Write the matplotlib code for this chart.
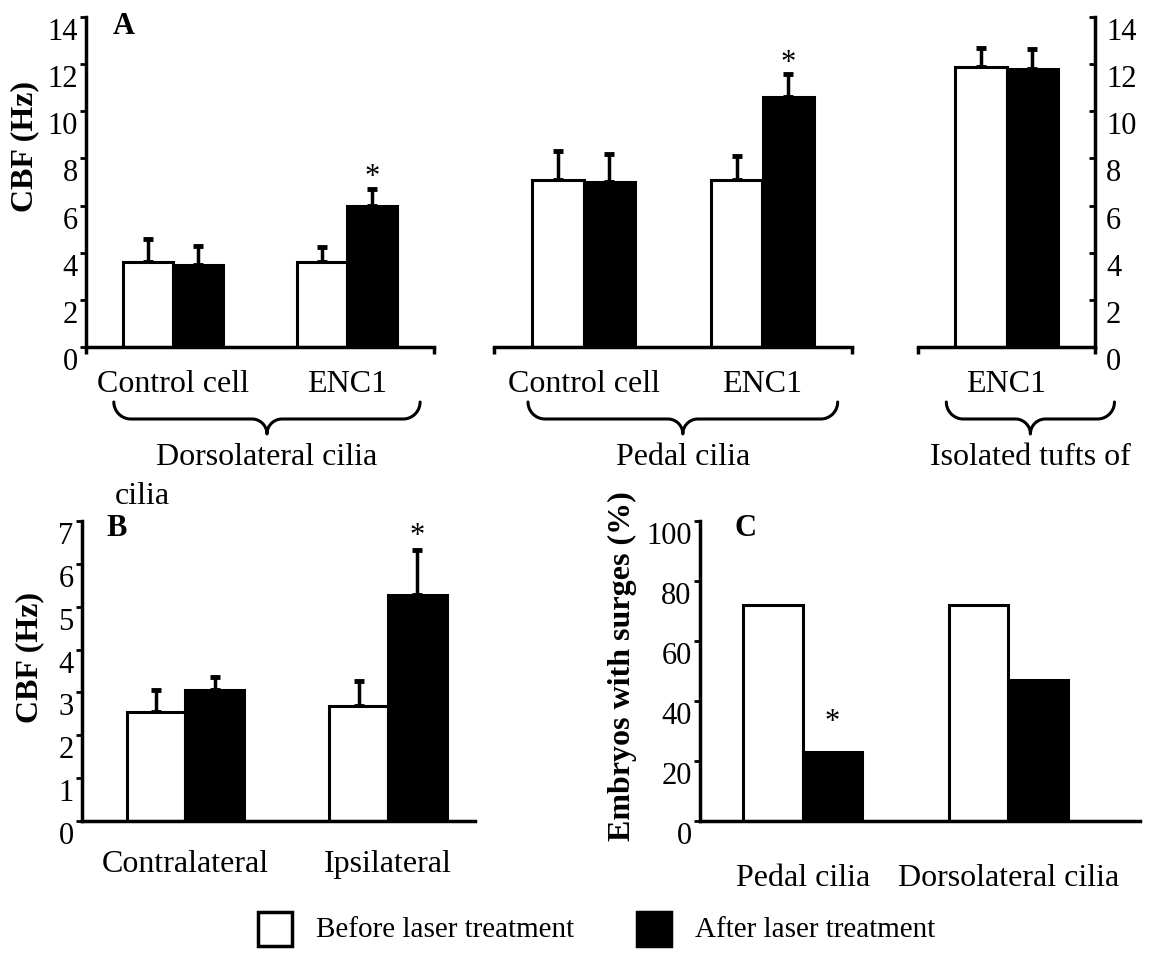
"""Recreate the laser-treatment CBF figure (panels A, B, C)."""

import numpy as np
import matplotlib.pyplot as plt
from matplotlib.patches import Rectangle

plt.rcParams['font.family'] = ['Liberation Serif', 'DejaVu Serif']

W, H = 1152, 954
BW = 0.29  # bar width in group units

# Panel A - CBF (Hz), dorsolateral cilia
dorso_groups = ['Control cell', 'ENC1']
dorso_before = [3.6, 3.6]
dorso_after = [3.5, 6.0]
dorso_before_err = [1.0, 0.65]
dorso_after_err = [0.8, 0.7]
dorso_sig = [False, True]

# Panel A - CBF (Hz), pedal cilia
pedal_groups = ['Control cell', 'ENC1']
pedal_before = [7.1, 7.1]
pedal_after = [7.0, 10.6]
pedal_before_err = [1.2, 1.0]
pedal_after_err = [1.2, 1.0]
pedal_sig = [False, True]

# Panel A - CBF (Hz), isolated tufts of cilia
tuft_groups = ['ENC1']
tuft_before = [11.9]
tuft_after = [11.8]
tuft_before_err = [0.8]
tuft_after_err = [0.85]
tuft_sig = [False]

# Panel B - CBF (Hz)
side_groups = ['Contralateral', 'Ipsilateral']
side_before = [2.55, 2.68]
side_after = [3.05, 5.28]
side_before_err = [0.5, 0.58]
side_after_err = [0.32, 1.05]
side_sig = [False, True]

# Panel C - embryos with surges (%)
surge_groups = ['Pedal cilia', 'Dorsolateral cilia']
surge_before = [72, 72]
surge_after = [23, 47]
surge_sig = [True, False]

a_ticks = [0, 2, 4, 6, 8, 10, 12, 14]
b_ticks = [0, 1, 2, 3, 4, 5, 6, 7]
c_ticks = [0, 20, 40, 60, 80, 100]


def add_axes_px(fig, left, top, right, bottom):
    """Add an axes given its box in image pixels (y down)."""
    return fig.add_axes([left / W, 1 - bottom / H, (right - left) / W, (bottom - top) / H])


def draw_bars(ax, groups, before, after, before_err=None, after_err=None,
              sig=None, star_pad=9):
    """Paired white/black bars with upward-only error bars."""
    x = np.arange(len(groups))
    ax.bar(x - BW / 2, before, BW, color='white', edgecolor='black', linewidth=2.2, zorder=2)
    ax.bar(x + BW / 2, after, BW, color='black', edgecolor='black', linewidth=2.2, zorder=2)
    tops = np.array(after, dtype=float)
    if before_err is not None:
        zeros = np.zeros(len(x))
        ax.errorbar(x - BW / 2, before, yerr=[zeros, before_err], fmt='none', ecolor='black',
                    elinewidth=2.5, capsize=3.5, capthick=3.5, zorder=1)
        ax.errorbar(x + BW / 2, after, yerr=[zeros, after_err], fmt='none', ecolor='black',
                    elinewidth=2.5, capsize=3.5, capthick=3.5, zorder=1)
        tops = tops + np.array(after_err)
    if sig is not None:
        for i, s in enumerate(sig):
            if s:
                ax.annotate('*', (x[i] + BW / 2, tops[i]), xytext=(0, star_pad),
                            textcoords='offset points', ha='center', va='center',
                            fontsize=22, annotation_clip=False)
    ax.set_xticks(x)
    ax.set_xticklabels(groups, fontsize=23)
    return x


def style_axes(ax, xlim, ylim, yticks=None, side='left', label_pad=16, end_ticks=True):
    """Plain journal-style axes: thick spines, short ticks, top-aligned y labels."""
    ax.set_xlim(*xlim)
    ax.set_ylim(*ylim)
    for sp in ax.spines.values():
        sp.set_visible(False)
        sp.set_linewidth(2.5)
    ax.spines['bottom'].set_visible(True)
    ax.tick_params(axis='x', which='major', length=0, pad=label_pad)
    if end_ticks:
        ax.set_xticks(list(xlim), minor=True)
        ax.tick_params(axis='x', which='minor', direction='out', length=5, width=2.5)
    if yticks is None:
        ax.set_yticks([])
        return
    ax.spines[side].set_visible(True)
    ax.set_yticks(yticks)
    if side == 'right':
        ax.yaxis.tick_right()
        ax.tick_params(axis='y', direction='in', length=4, width=2, pad=8, labelsize=22)
    else:
        ax.tick_params(axis='y', direction='out', length=4, width=2, pad=2, labelsize=22)
    for t in ax.get_yticklabels():
        t.set_va('top')


def brace(ov, x0, x1, y_top=403, y_line=420, y_tip=435):
    """Curly brace opening upwards, drawn in image pixels (y down)."""
    r = y_line - y_top
    r2 = y_tip - y_line
    xm = (x0 + x1) / 2
    t = np.linspace(0, np.pi / 2, 25)
    xs = np.concatenate([
        x0 + r - r * np.cos(t),
        xm - r2 + r2 * np.sin(t),
        (xm + r2 - r2 * np.sin(t))[::-1],
        (x1 - r + r * np.cos(t))[::-1],
    ])
    ys = np.concatenate([
        y_top + r * np.sin(t),
        y_tip - r2 * np.cos(t),
        (y_tip - r2 * np.cos(t))[::-1],
        (y_top + r * np.sin(t))[::-1],
    ])
    ov.plot(xs, ys, color='black', linewidth=2.2, solid_capstyle='round')
    return xm


def to_px(ax, x):
    """Data x of an axes -> image pixel x."""
    return ax.transData.transform((x, 0))[0]


def main():
    fig = plt.figure(figsize=(W / 100, H / 100), dpi=100)

    # ---- Panel A ----
    ax_d = add_axes_px(fig, 86, 18, 434, 348)
    draw_bars(ax_d, dorso_groups, dorso_before, dorso_after, dorso_before_err,
              dorso_after_err, dorso_sig, star_pad=9)
    style_axes(ax_d, (-0.5, 1.5), (0, 14), a_ticks)

    ax_p = add_axes_px(fig, 494, 18, 852, 348)
    draw_bars(ax_p, pedal_groups, pedal_before, pedal_after, pedal_before_err,
              pedal_after_err, pedal_sig, star_pad=8)
    style_axes(ax_p, (-0.5, 1.5), (0, 14))

    ax_t = add_axes_px(fig, 918, 18, 1095, 348)
    draw_bars(ax_t, tuft_groups, tuft_before, tuft_after, tuft_before_err,
              tuft_after_err, tuft_sig)
    style_axes(ax_t, (-0.5, 0.5), (0, 14), a_ticks, side='right')

    # ---- Panel B ----
    ax_b = add_axes_px(fig, 82, 522, 475, 822)
    draw_bars(ax_b, side_groups, side_before, side_after, side_before_err,
              side_after_err, side_sig, star_pad=10)
    style_axes(ax_b, (-0.51, 1.43), (0, 7), b_ticks, label_pad=20, end_ticks=False)

    # ---- Panel C ----
    ax_c = add_axes_px(fig, 700, 522, 1140, 822)
    draw_bars(ax_c, surge_groups, surge_before, surge_after, sig=surge_sig, star_pad=22)
    style_axes(ax_c, (-0.5, 1.64), (0, 100), c_ticks, label_pad=30, end_ticks=False)

    # ---- overlay in image pixels for braces, labels and legend ----
    ov = fig.add_axes([0, 0, 1, 1], facecolor='none')
    ov.set_xlim(0, W)
    ov.set_ylim(H, 0)
    ov.axis('off')

    tip = brace(ov, to_px(ax_d, -0.34), to_px(ax_d, 1.42))
    ov.text(tip, 458, 'Dorsolateral cilia', fontsize=23, ha='center', va='center')
    tip = brace(ov, to_px(ax_p, -0.31), to_px(ax_p, 1.42))
    ov.text(tip, 458, 'Pedal cilia', fontsize=23, ha='center', va='center')
    tip = brace(ov, to_px(ax_t, -0.34), to_px(ax_t, 0.61))
    ov.text(tip, 458, 'Isolated tufts of', fontsize=23, ha='center', va='center')
    ov.text(142, 497, 'cilia', fontsize=23, ha='center', va='center')

    ov.text(25, 146, 'CBF (Hz)', rotation=90, fontsize=23, fontweight='bold',
            ha='center', va='center')
    ov.text(30, 658, 'CBF (Hz)', rotation=90, fontsize=23, fontweight='bold',
            ha='center', va='center')
    ov.text(622, 666, 'Embryos with surges (%)', rotation=90, fontsize=23,
            fontweight='bold', ha='center', va='center')

    ov.text(124, 26, 'A', fontsize=22, fontweight='bold', ha='center', va='center')
    ov.text(117, 529, 'B', fontsize=22, fontweight='bold', ha='center', va='center')
    ov.text(746, 529, 'C', fontsize=22, fontweight='bold', ha='center', va='center')

    # legend
    ov.add_patch(Rectangle((258, 913), 34, 34, facecolor='white', edgecolor='black', linewidth=2.5))
    ov.text(316, 930, 'Before laser treatment', fontsize=21, ha='left', va='center')
    ov.add_patch(Rectangle((637, 913), 34, 34, facecolor='black', edgecolor='black', linewidth=2.5))
    ov.text(695, 930, 'After laser treatment', fontsize=21, ha='left', va='center')

    fig.savefig('out.png', dpi=100)


if __name__ == '__main__':
    main()
